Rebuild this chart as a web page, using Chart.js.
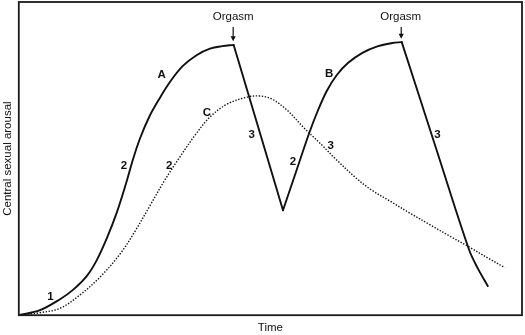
<!DOCTYPE html>
<html>
<head>
<meta charset="utf-8">
<script src="https://cdn.jsdelivr.net/npm/chart.js@4/dist/chart.umd.min.js"></script>
<style>
  html, body { margin: 0; padding: 0; background: #ffffff; }
  #wrap { width: 525px; height: 335px; position: relative; }
</style>
</head>
<body>
<div id="wrap"><canvas id="c"></canvas></div>
<script>
// ---- Data (time 0-100, central sexual arousal 0-100) ----
// Solid curve, phase A rising to first orgasm
const riseA_time    = [0, 4.2, 8.2, 10.7, 13.5, 15.5, 17.5, 19.5, 21.5, 22.7, 24.1, 26.0, 28.0, 30.0, 32.6, 35.4, 38.0, 40.4, 42.7];
const riseA_arousal = [0, 1.6, 5.1, 8.0, 12.5, 17.6, 24.6, 32.9, 43.1, 49.8, 56.5, 63.6, 69.3, 74.4, 79.6, 83.1, 85.1, 85.9, 86.3];
// Solid curve, resolution after first orgasm
const fallA_time    = [42.7, 52.5];
const fallA_arousal = [86.3, 33.5];
// Solid curve, phase B rising to second orgasm
const riseB_time    = [52.5, 55.1, 57.7, 59.4, 61.2, 63.2, 65.4, 68.2, 71.4, 74.2, 76.1];
const riseB_arousal = [33.5, 45.8, 58.1, 65.2, 71.6, 76.7, 80.5, 83.7, 85.9, 86.9, 87.2];
// Solid curve, resolution after second orgasm
const fallB_time    = [76.1, 82.9, 89.5, 91.3, 93.2];
const fallB_arousal = [87.2, 53.4, 20.8, 14.7, 9.3];
// Dotted curve C (no orgasm)
const curveC_time    = [0, 4.2, 8.2, 12.1, 16.1, 20.1, 23.1, 26.0, 29.0, 32.0, 34.9, 38.0, 41.4, 45.3, 47.9, 50.3, 53.3, 56.5, 59.8, 63.2, 66.8, 69.8, 73.8, 77.7, 81.7, 85.7, 89.7, 93.6, 96.6];
const curveC_arousal = [0, 0.8, 2.2, 6.4, 12.1, 19.5, 26.8, 34.8, 43.1, 50.5, 57.2, 63.3, 67.4, 69.6, 70.0, 69.0, 65.5, 60.1, 55.0, 49.5, 44.1, 40.3, 36.4, 32.6, 28.9, 25.2, 21.6, 17.9, 15.2];

// Text labels anchored in data units
const labelText    = ['Orgasm', 'Orgasm', 'A', 'B', 'C', '1', '2', '2', '3', '2', '3', '3'];
const labelTime    = [42.6, 75.9, 28.4, 61.7, 37.4, 6.3, 20.9, 29.9, 46.3, 54.5, 62.0, 83.2];
const labelArousal = [95.4, 95.4, 76.9, 77.2, 64.6, 5.8, 47.7, 47.7, 57.5, 49.0, 54.0, 57.5];
// Orgasm arrows (time, top arousal, tip arousal)
const arrowTime  = [42.6, 76.0];
const arrowTop   = [92.0, 92.0];
const arrowTip   = [87.5, 88.3];

const xAxisTitle = 'Time';
const yAxisTitle = 'Central sexual arousal';

function pts(t, v) { return t.map((x, i) => ({ x: x, y: v[i] })); }

const FONT = '"Liberation Sans", Arial, Helvetica, sans-serif';
const INK = '#111111';

const solidStyle = {
  borderColor: INK, borderWidth: 1.9, pointRadius: 0, fill: false,
  tension: 0.35, borderCapStyle: 'round', borderJoinStyle: 'round'
};

const overlay = {
  id: 'overlay',
  afterDatasetsDraw(chart) {
    const { ctx, chartArea: a, scales: { x, y } } = chart;
    ctx.save();
    // frame
    ctx.strokeStyle = '#1a1a1a';
    ctx.lineWidth = 1.8;
    ctx.strokeRect(a.left, a.top, a.right - a.left, a.bottom - a.top);
    // labels
    ctx.fillStyle = INK;
    ctx.textAlign = 'center';
    ctx.textBaseline = 'middle';
    labelText.forEach((txt, i) => {
      ctx.font = (txt === 'Orgasm' ? '' : 'bold ') + '11.5px ' + FONT;
      ctx.fillText(txt, x.getPixelForValue(labelTime[i]), y.getPixelForValue(labelArousal[i]));
    });
    // arrows
    ctx.strokeStyle = INK;
    ctx.lineWidth = 1.2;
    arrowTime.forEach((t, i) => {
      const px = x.getPixelForValue(t);
      const y0 = y.getPixelForValue(arrowTop[i]);
      const y1 = y.getPixelForValue(arrowTip[i]);
      ctx.beginPath();
      ctx.moveTo(px, y0);
      ctx.lineTo(px, y1 - 4);
      ctx.stroke();
      ctx.beginPath();
      ctx.moveTo(px - 2.6, y1 - 5);
      ctx.lineTo(px + 2.6, y1 - 5);
      ctx.lineTo(px, y1);
      ctx.closePath();
      ctx.fill();
    });
    ctx.restore();
  }
};

new Chart(document.getElementById('c'), {
  type: 'line',
  data: {
    datasets: [
      Object.assign({ label: 'A', data: pts(riseA_time, riseA_arousal) }, solidStyle),
      Object.assign({ label: 'A3', data: pts(fallA_time, fallA_arousal) }, solidStyle),
      Object.assign({ label: 'B', data: pts(riseB_time, riseB_arousal) }, solidStyle),
      Object.assign({ label: 'B3', data: pts(fallB_time, fallB_arousal) }, solidStyle),
      {
        label: 'C', data: pts(curveC_time, curveC_arousal),
        borderColor: INK, borderWidth: 1.4, borderDash: [1.4, 1.6], pointRadius: 0, fill: false,
        tension: 0.35
      }
    ]
  },
  options: {
    responsive: true,
    maintainAspectRatio: false,
    animation: false,
    devicePixelRatio: 1,
    layout: { padding: { left: 1, top: 2, right: 3, bottom: 0 } },
    plugins: { legend: { display: false }, tooltip: { enabled: false } },
    scales: {
      x: {
        type: 'linear', min: 0, max: 100,
        grid: { display: false, drawTicks: false },
        border: { display: false },
        ticks: { display: false },
        title: { display: true, text: xAxisTitle, color: INK, font: { family: FONT, size: 11.5 }, padding: { top: 6, bottom: 0 } }
      },
      y: {
        type: 'linear', min: 0, max: 100,
        grid: { display: false, drawTicks: false },
        border: { display: false },
        ticks: { display: false },
        title: { display: true, text: yAxisTitle, color: INK, font: { family: FONT, size: 11.5 }, padding: { top: 0, bottom: 4 } }
      }
    }
  },
  plugins: [overlay]
});
</script>
</body>
</html>
